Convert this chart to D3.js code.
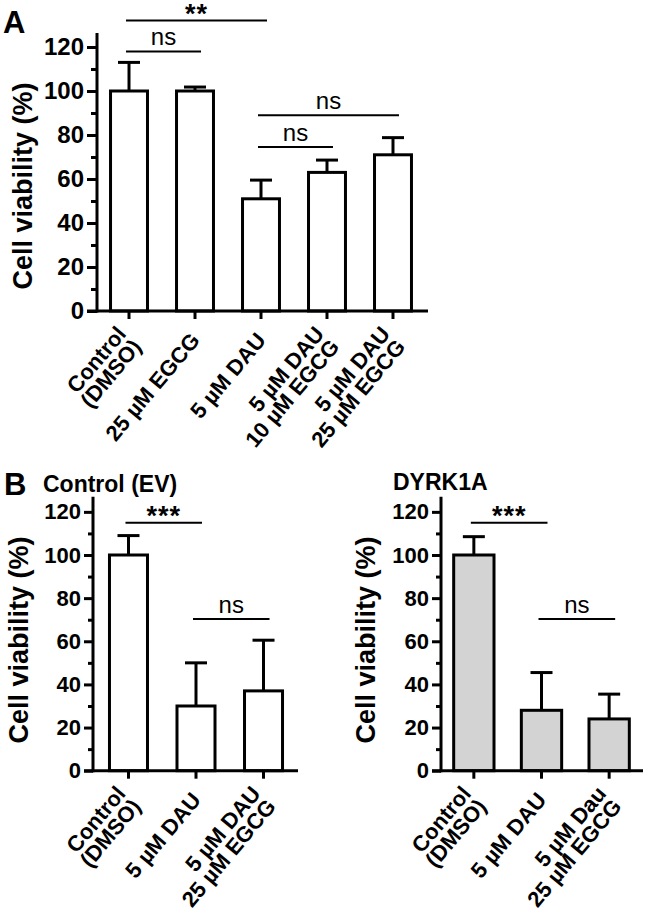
<!DOCTYPE html>
<html><head><meta charset="utf-8">
<script src="https://cdn.jsdelivr.net/npm/d3@7"></script>
<style>
body{margin:0;background:#fff}
svg{display:block}
text{font-family:"Liberation Sans",Arial,sans-serif;fill:#000}
</style>
</head><body>
<svg id="chart" width="645" height="921"></svg>
<script>
// ---------- data ----------
const yTicks = [0, 20, 40, 60, 80, 100, 120];
const yMinorTicks = [10, 30, 50, 70, 90, 110];
const yTitle = "Cell viability (%)";

const categoriesA = ["Control\n(DMSO)", "25 µM EGCG", "5 µM DAU", "5 µM DAU\n10 µM EGCG", "5 µM DAU\n25 µM EGCG"];
const viabilityA = [100, 100, 51, 63, 71];
const errorA = [13, 1.8, 8.5, 5.6, 7.8];
const sigA = [
  {a: 0, b: 2, y: 132, label: "**"},
  {a: 0, b: 1, y: 118, label: "ns"},
  {a: 2, b: 4, y: 89, label: "ns"},
  {a: 2, b: 3, y: 74.5, label: "ns"}
];

const titleB1 = "Control (EV)";
const categoriesB1 = ["Control\n(DMSO)", "5 µM DAU", "5 µM DAU\n25 µM EGCG"];
const viabilityB1 = [100, 30, 37];
const errorB1 = [9, 20, 23.5];
const sigB1 = [
  {a: 0, b: 1, y: 115, label: "***"},
  {a: 1, b: 2, y: 70.3, label: "ns"}
];

const titleB2 = "DYRK1A";
const categoriesB2 = ["Control\n(DMSO)", "5 µM DAU", "5 µM Dau\n25 µM EGCG"];
const viabilityB2 = [100, 28, 24];
const errorB2 = [8.5, 17.5, 11.5];
const sigB2 = [
  {a: 0, b: 1, y: 115, label: "***"},
  {a: 1, b: 2, y: 70.3, label: "ns"}
];

// ---------- drawing ----------
const svg = d3.select("#chart");

function panel(cfg) {
  const g = svg.append("g");
  const data = cfg.cats.map((c, i) => ({c, v: cfg.vals[i], e: cfg.errs[i]}));
  const x = d3.scaleBand().domain(cfg.cats).range(cfg.bandRange)
    .paddingInner(cfg.padIn).paddingOuter(cfg.padOut);
  const y = d3.scaleLinear().domain([0, 120]).range([cfg.y0, cfg.y0 - 120 * cfg.k]);
  const cx = c => x(c) + x.bandwidth() / 2;

  // bars
  g.selectAll("rect.bar").data(data).join("rect")
    .attr("x", d => x(d.c)).attr("width", x.bandwidth())
    .attr("y", d => y(d.v)).attr("height", d => y(0) - y(d.v))
    .attr("fill", cfg.fill).attr("stroke", "#000").attr("stroke-width", 3);

  // error bars (upper)
  g.selectAll("line.err").data(data).join("line")
    .attr("x1", d => cx(d.c)).attr("x2", d => cx(d.c))
    .attr("y1", d => y(d.v)).attr("y2", d => y(d.v + d.e))
    .attr("stroke", "#000").attr("stroke-width", 3);
  g.selectAll("line.cap").data(data).join("line")
    .attr("x1", d => cx(d.c) - 11).attr("x2", d => cx(d.c) + 11)
    .attr("y1", d => y(d.v + d.e)).attr("y2", d => y(d.v + d.e))
    .attr("stroke", "#000").attr("stroke-width", 3);

  // y axis
  const ya = g.append("g").attr("transform", `translate(${cfg.axisX},0)`)
    .call(d3.axisLeft(y).tickValues(yTicks).tickSize(cfg.major).tickPadding(3));
  ya.select(".domain").remove();
  ya.selectAll(".tick line").attr("stroke-width", 3);
  ya.selectAll(".tick text").attr("font-size", cfg.tickFont).attr("font-weight", "bold")
    .attr("font-family", '"Liberation Sans",Arial,sans-serif');
  const ym = g.append("g").attr("transform", `translate(${cfg.axisX},0)`)
    .call(d3.axisLeft(y).tickValues(yMinorTicks).tickSize(cfg.minor).tickFormat(""));
  ym.select(".domain").remove();
  ym.selectAll(".tick line").attr("stroke-width", 3);
  g.append("line").attr("x1", cfg.axisX).attr("x2", cfg.axisX)
    .attr("y1", y(0) + 1.5).attr("y2", y(cfg.axisTopVal))
    .attr("stroke", "#000").attr("stroke-width", 3);

  // x axis
  const xa = g.append("g").attr("transform", `translate(0,${y(0)})`)
    .call(d3.axisBottom(x).tickSize(cfg.xTick).tickFormat(""));
  xa.select(".domain").remove();
  xa.selectAll(".tick line").attr("stroke-width", 3);
  g.append("line").attr("x1", cfg.axisX - cfg.major).attr("x2", cfg.xEnd)
    .attr("y1", y(0)).attr("y2", y(0)).attr("stroke", "#000").attr("stroke-width", 3);

  // x labels
  cfg.cats.forEach(c => {
    const lines = c.split("\n");
    const t = g.append("g").attr("transform", `translate(${cx(c)},${y(0) + cfg.labOff}) rotate(-50)`);
    lines.forEach((ln, i) => {
      t.append("text").attr("x", 0).attr("y", (i - (lines.length - 1) / 2) * 20)
        .attr("dy", "0.35em").attr("text-anchor", "end")
        .attr("font-size", 22).attr("font-weight", "bold").text(ln);
    });
  });

  // y title
  g.append("text").attr("transform", `translate(${cfg.titleX},${cfg.titleY}) rotate(-90)`)
    .attr("text-anchor", "middle").attr("font-size", 27).attr("font-weight", "bold").text(yTitle);

  // significance
  cfg.sig.forEach(s => {
    const x1 = cx(cfg.cats[s.a]) - 3, x2 = cx(cfg.cats[s.b]) + 6;
    g.append("line").attr("x1", x1).attr("x2", x2).attr("y1", y(s.y)).attr("y2", y(s.y))
      .attr("stroke", "#000").attr("stroke-width", 2);
    const star = s.label.indexOf("*") >= 0;
    g.append("text").attr("x", (x1 + x2) / 2).attr("y", y(s.y) + (star ? 2 : -6))
      .attr("text-anchor", "middle")
      .attr("font-size", star ? 27 : 24).attr("font-weight", star ? "bold" : "normal")
      .attr("letter-spacing", star ? 1 : 0)
      .text(s.label);
  });

  if (cfg.header) {
    g.append("text").attr("x", cfg.header.x).attr("y", cfg.header.y)
      .attr("font-size", 23).attr("font-weight", "bold").text(cfg.header.text);
  }
}

panel({cats: categoriesA, vals: viabilityA, errs: errorA, sig: sigA, fill: "#fff",
  bandRange: [97, 425], padIn: 0.44, padOut: 0.205, y0: 311, k: 2.2, axisX: 97, axisTopVal: 126.4,
  xEnd: 428, major: 10, minor: 6, xTick: 8, tickFont: 24, labOff: 25, titleX: 32, titleY: 186});

panel({cats: categoriesB1, vals: viabilityB1, errs: errorB1, sig: sigB1, fill: "#fff",
  bandRange: [93, 299], padIn: 0.437, padOut: 0.244, y0: 770.7, k: 2.157, axisX: 93, axisTopVal: 127,
  xEnd: 298, major: 9, minor: 5, xTick: 8, tickFont: 22, labOff: 25, titleX: 28, titleY: 640,
  header: {x: 43, y: 492, text: titleB1}});

panel({cats: categoriesB2, vals: viabilityB2, errs: errorB2, sig: sigB2, fill: "#d3d3d3",
  bandRange: [441, 642], padIn: 0.404, padOut: 0.1875, y0: 770.7, k: 2.157, axisX: 441, axisTopVal: 127,
  xEnd: 643, major: 9, minor: 5, xTick: 8, tickFont: 22, labOff: 25, titleX: 375, titleY: 640,
  header: {x: 393, y: 490, text: titleB2}});

svg.append("text").attr("x", 3).attr("y", 33).attr("font-size", 31).attr("font-weight", "bold").text("A");
svg.append("text").attr("x", 4).attr("y", 495).attr("font-size", 31).attr("font-weight", "bold").text("B");
</script>
</body></html>
